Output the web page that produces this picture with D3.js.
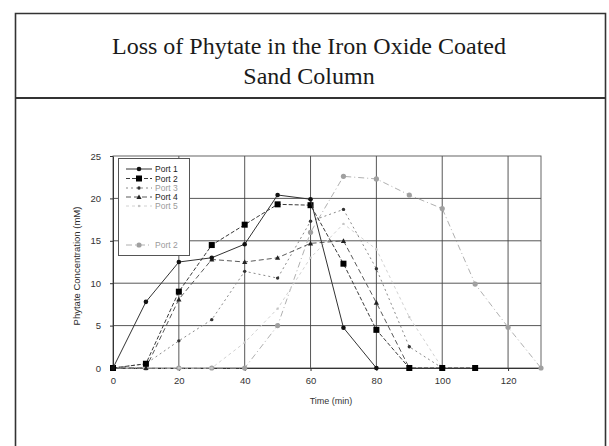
<!DOCTYPE html>
<html>
<head>
<meta charset="utf-8">
<script src="https://cdn.jsdelivr.net/npm/d3@7"></script>
<style>
  html, body { margin: 0; padding: 0; background: #fff; }
  svg { display: block; }
</style>
</head>
<body>
<svg id="chart" width="609" height="446"></svg>
<script>
// Sampling times (min) and tick labels
const xTicks = [0, 20, 40, 60, 80, 100, 120];
const yTicks = [0, 5, 10, 15, 20, 25];

// Phytate concentration (mM) at each port, as [time, value]
const port1 = [[0,0],[10,7.8],[20,12.5],[30,13.0],[40,14.6],[50,20.4],[60,19.9],[70,4.75],[80,0]];
const port2 = [[0,0],[10,0.5],[20,9.0],[30,14.5],[40,16.9],[50,19.3],[60,19.2],[70,12.3],[80,4.5],[90,0],[100,0],[110,0]];
const port3 = [[0,0],[10,0.5],[20,3.2],[30,5.7],[40,11.4],[50,10.6],[60,17.3],[70,18.7],[80,11.7],[90,2.5],[100,0]];
const port4 = [[0,0],[10,0],[20,8.1],[30,12.8],[40,12.5],[50,13.0],[60,14.7],[70,15.0],[80,7.7],[90,0]];
const port5 = [[0,0],[10,0],[20,0],[30,0],[40,3],[50,7],[60,13],[70,17],[80,14],[90,6],[100,0]];
const port6 = [[0,0],[10,0],[20,0],[30,0],[40,0],[50,5],[60,16],[70,22.6],[80,22.3],[90,20.4],[100,18.8],[110,9.9],[120,4.8],[130,0]];

const seriesNames = ["Port 1", "Port 2", "Port 3", "Port 4", "Port 5", "Port 2"];

const series = [
  { name: seriesNames[0], data: port1, stroke: "#333",    dash: null,      width: 1, marker: "circle",   size: 2.3, fill: "#111" },
  { name: seriesNames[1], data: port2, stroke: "#3a3a3a", dash: "4,2",     width: 1, marker: "square",   size: 6,   fill: "#000" },
  { name: seriesNames[2], data: port3, stroke: "#8a8a8a", dash: "2,3",     width: 1, marker: "circle",   size: 1.7, fill: "#333" },
  { name: seriesNames[3], data: port4, stroke: "#5a5a5a", dash: "5,3",     width: 1, marker: "triangle", size: 2.6, fill: "#222" },
  { name: seriesNames[4], data: port5, stroke: "#d2d2d2", dash: "3,3",     width: 1, marker: "circle",   size: 1.2, fill: "#c4c4c4" },
  { name: seriesNames[5], data: port6, stroke: "#b0b0b0", dash: "6,3,1,3", width: 1, marker: "circle",   size: 2.6, fill: "#a0a0a0" }
];

const svg = d3.select("#chart");

// Page frame and title panel
const frame = svg.append("g");
frame.append("path")
  .attr("d", "M15.5,446 L15.5,13.5 L605.5,13.5 L605.5,446")
  .attr("fill", "none").attr("stroke", "#333").attr("stroke-width", 1.6);
frame.append("line")
  .attr("x1", 15).attr("x2", 606).attr("y1", 98).attr("y2", 98)
  .attr("stroke", "#333").attr("stroke-width", 2.2);

const title = svg.append("text")
  .attr("text-anchor", "middle")
  .attr("font-family", "'Liberation Serif', 'Times New Roman', serif")
  .attr("font-size", 24).attr("fill", "#1a1a1a");
title.append("tspan").attr("x", 309).attr("y", 54).text("Loss of Phytate in the Iron Oxide Coated");
title.append("tspan").attr("x", 309).attr("y", 84).text("Sand Column");

// Plot area
const x = d3.scaleLinear().domain([0, 130]).range([113, 541]);
const y = d3.scaleLinear().domain([0, 25]).range([368, 156]);

const grid = svg.append("g");
grid.selectAll("line.v").data(xTicks.filter(d => d > 0)).join("line")
  .attr("x1", d => x(d)).attr("x2", d => x(d))
  .attr("y1", y(0)).attr("y2", y(25))
  .attr("stroke", "#444").attr("stroke-width", 0.9);
grid.selectAll("line.h").data(yTicks.filter(d => d > 0 && d < 25)).join("line")
  .attr("x1", x(0)).attr("x2", x(130))
  .attr("y1", d => y(d)).attr("y2", d => y(d))
  .attr("stroke", "#444").attr("stroke-width", 0.9);
grid.append("rect")
  .attr("x", x(0)).attr("y", y(25))
  .attr("width", x(130) - x(0)).attr("height", y(0) - y(25))
  .attr("fill", "none").attr("stroke", "#555").attr("stroke-width", 0.9);

// Axes
const xAxis = d3.axisBottom(x).tickValues(xTicks).tickSize(3).tickSizeOuter(0);
const yAxis = d3.axisLeft(y).tickValues(yTicks).tickSize(3).tickSizeOuter(0);
const gx = svg.append("g").attr("transform", `translate(0,${y(0)})`).call(xAxis);
const gy = svg.append("g").attr("transform", `translate(${x(0)},0)`).call(yAxis);
[gx, gy].forEach(g => {
  g.select(".domain").attr("stroke", "#333");
  g.selectAll(".tick line").attr("stroke", "#333");
  g.selectAll(".tick text")
    .attr("font-family", "'Liberation Sans', Arial, sans-serif")
    .attr("font-size", 9.5).attr("fill", "#333");
});
gy.selectAll(".tick text").attr("x", -12);
gx.selectAll(".tick text").attr("y", 9);

svg.append("text")
  .attr("x", 331).attr("y", 404).attr("text-anchor", "middle")
  .attr("font-family", "'Liberation Sans', Arial, sans-serif")
  .attr("font-size", 9).attr("fill", "#333")
  .text("Time (min)");
svg.append("text")
  .attr("transform", `translate(80,${(y(0) + y(25)) / 2 + 4}) rotate(-90)`)
  .attr("text-anchor", "middle")
  .attr("font-family", "'Liberation Sans', Arial, sans-serif")
  .attr("font-size", 9.5).attr("fill", "#2a2a2a")
  .text("Phytate Concentration (mM)");

// Marker shapes
function drawMarker(g, s, cx, cy) {
  if (s.marker === "square") {
    g.append("rect").attr("x", cx - s.size / 2).attr("y", cy - s.size / 2)
      .attr("width", s.size).attr("height", s.size).attr("fill", s.fill);
  } else if (s.marker === "triangle") {
    const r = s.size;
    g.append("path")
      .attr("d", `M${cx},${cy - r} L${cx + r},${cy + r * 0.8} L${cx - r},${cy + r * 0.8} Z`)
      .attr("fill", s.fill);
  } else {
    g.append("circle").attr("cx", cx).attr("cy", cy).attr("r", s.size)
      .attr("fill", s.fill);
  }
}

const line = d3.line().x(d => x(d[0])).y(d => y(d[1]));
const plot = svg.append("g");
// Lighter series go underneath the dark ports
[5, 4, 2, 3, 1, 0].forEach(i => {
  const s = series[i];
  const g = plot.append("g");
  g.append("path").datum(s.data)
    .attr("d", line).attr("fill", "none")
    .attr("stroke", s.stroke).attr("stroke-width", s.width)
    .attr("stroke-dasharray", s.dash);
  s.data.forEach(d => drawMarker(g, s, x(d[0]), y(d[1])));
});

// Legend
const lg = svg.append("g");
lg.append("rect").attr("x", 118.5).attr("y", 158.5).attr("width", 71).attr("height", 97)
  .attr("fill", "#fff").attr("stroke", "#555").attr("stroke-width", 1);
const legendRows = [169, 178.5, 188, 197, 206, 245];
series.forEach((s, i) => {
  const ly = legendRows[i];
  lg.append("line").attr("x1", 126).attr("x2", 152).attr("y1", ly).attr("y2", ly)
    .attr("stroke", s.stroke).attr("stroke-width", s.width)
    .attr("stroke-dasharray", s.dash);
  drawMarker(lg, s, 139, ly);
  lg.append("text").attr("x", 155).attr("y", ly + 3)
    .attr("font-family", "'Liberation Sans', Arial, sans-serif")
    .attr("font-size", 8.5)
    .attr("fill", i === 2 || i === 4 || i === 5 ? "#9a9a9a" : "#222")
    .text(s.name);
});
</script>
</body>
</html>
